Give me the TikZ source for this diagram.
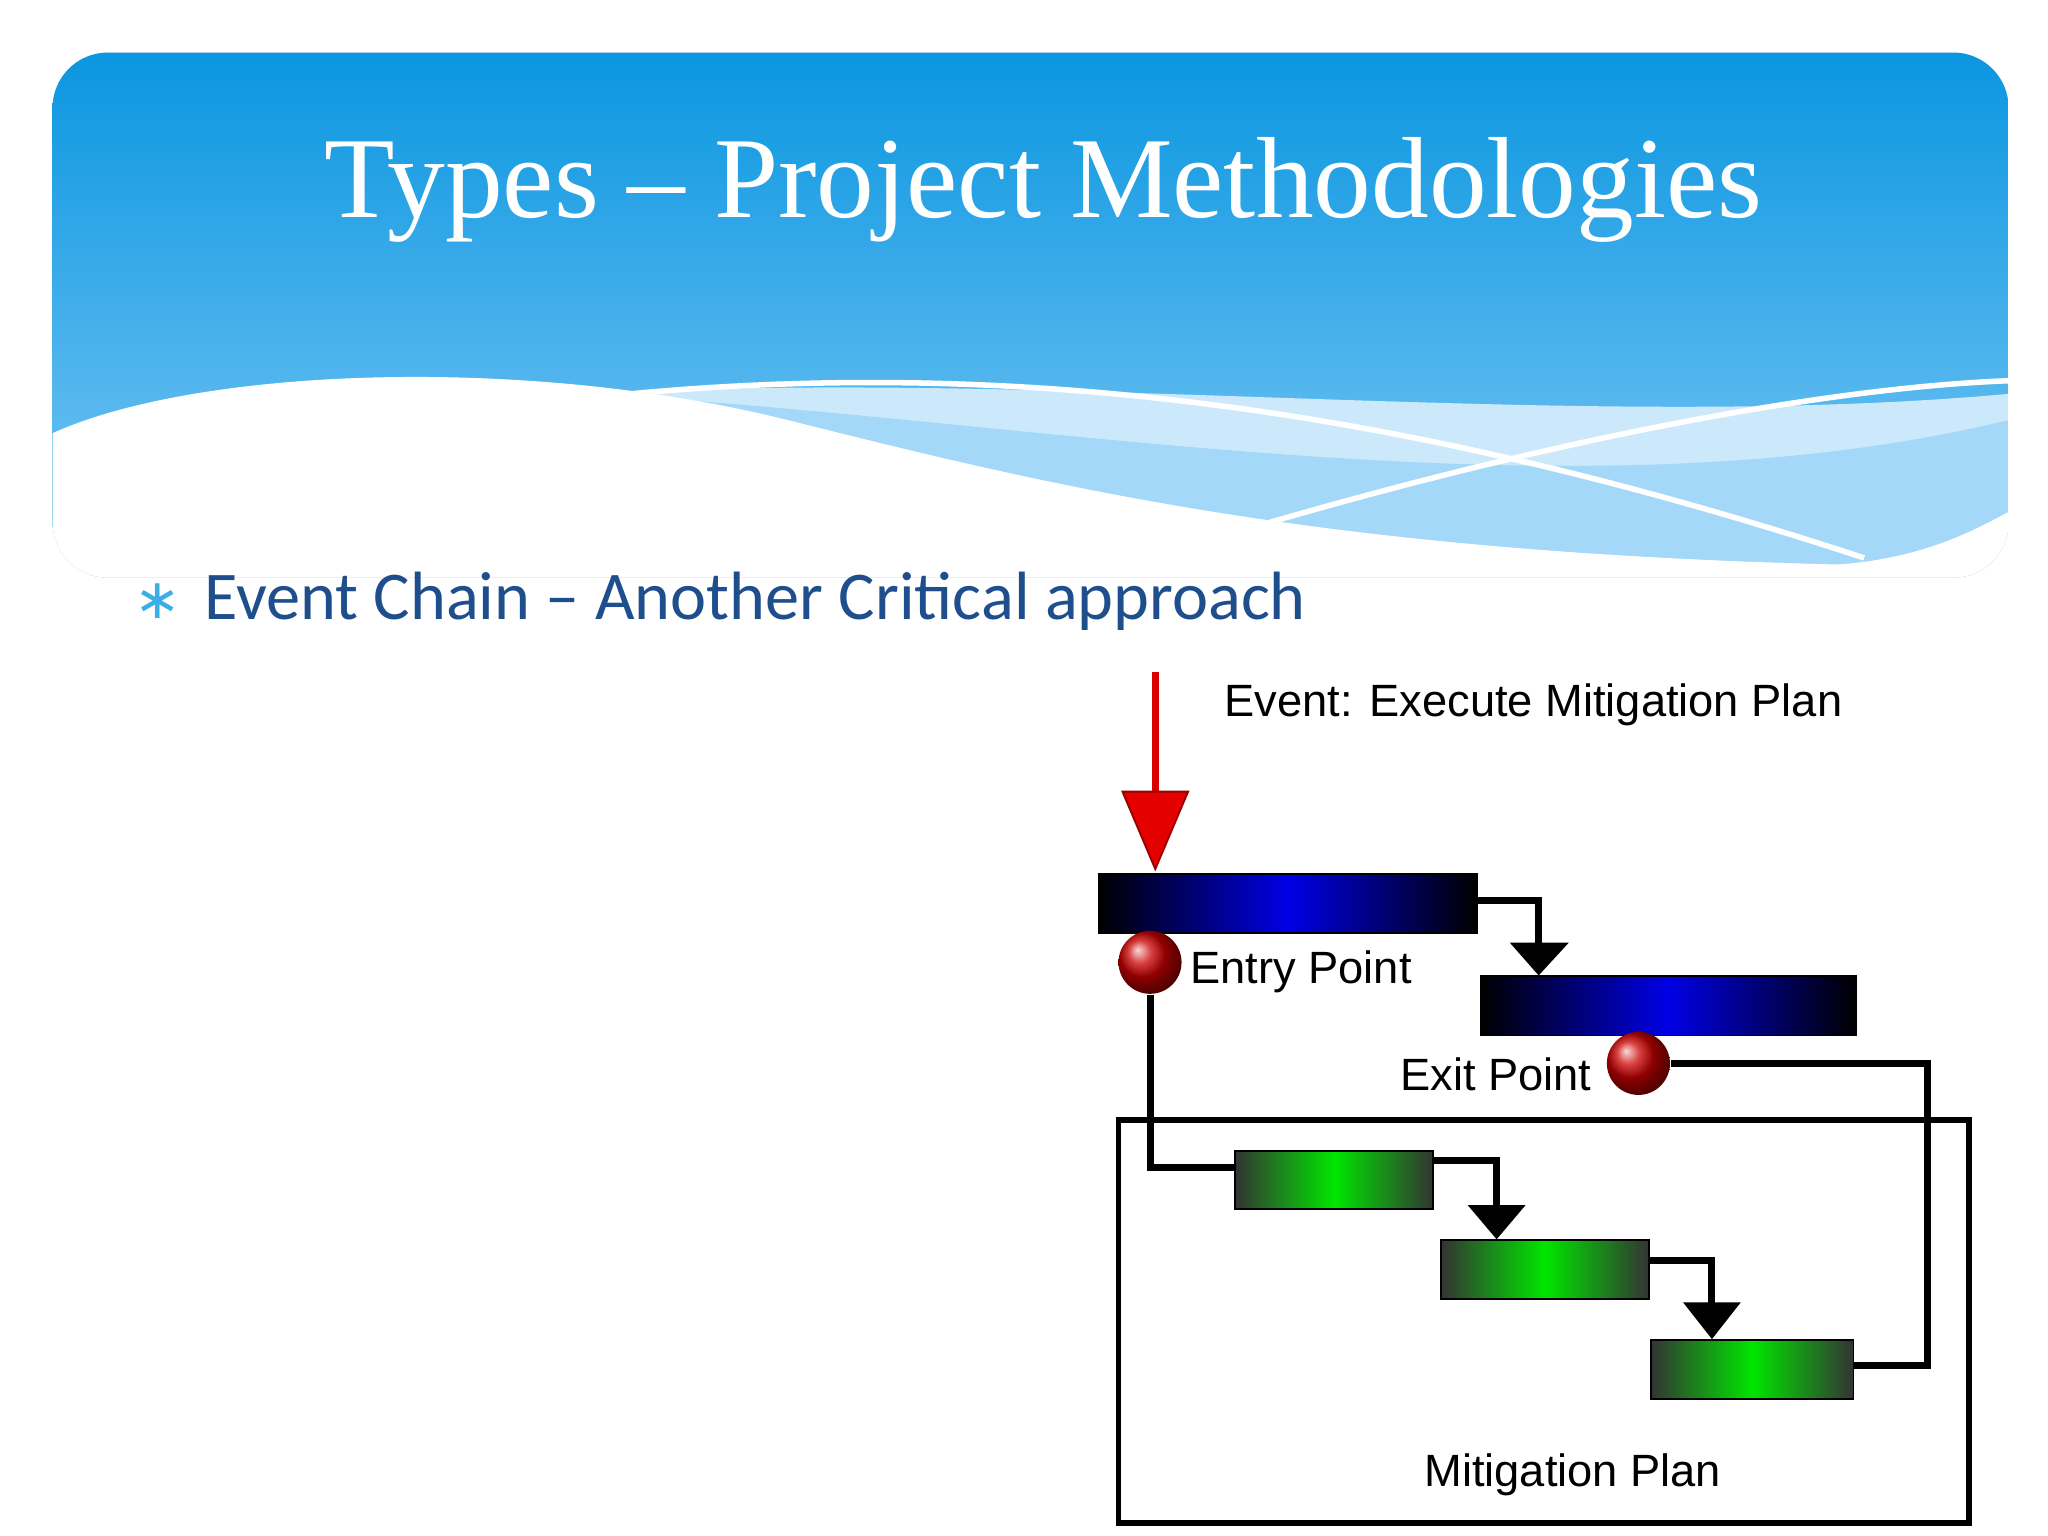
\documentclass[tikz,border=0pt]{standalone}
\usepackage{fontspec}
\setmainfont{Liberation Serif}
\newfontfamily\calfont{Carlito}
\newfontfamily\ari{Liberation Sans}
\newfontfamily\djv{DejaVu Sans}
\usetikzlibrary{calc}
\definecolor{hdtop}{HTML}{0A96E0}
\definecolor{hdbot}{HTML}{7CC8F5}
\definecolor{txtblue}{HTML}{1F4E8C}
\definecolor{bul}{HTML}{3BAEE8}
\tikzset{
 bluebar/.style={draw=black,thin,inner sep=0pt,left color=black,right color=black,middle color=blue!90!black},
 greenbar/.style={draw=black,thin,inner sep=0pt,left color=black!80,right color=black!80,middle color=green!90!black},
 redball/.style={circle,ball color=red!80!black,minimum size=0.48cm,inner sep=0pt},
 conn/.style={black,line width=1.5pt},
 lbl/.style={font=\ari\fontsize{9.8}{12}\selectfont,inner sep=0pt}
}
\begin{document}
\begin{tikzpicture}[x=0.01cm,y=-0.01cm]
\useasboundingbox[fill=white] (0,0) rectangle (1560,1170);
% header
\begin{scope}
\clip[rounded corners=12] (40,40) rectangle (1530,440);
\shade[top color=hdtop,bottom color=hdbot] (40,40) rectangle (1530,440);
\fill[white!60!hdbot] (450,300) .. controls (800,280) and (1200,330) .. (1530,300) -- (1530,440) -- (40,440) -- cycle;
\fill[white!30!hdbot] (450,300) .. controls (800,320) and (1200,400) .. (1530,320) -- (1530,440) -- (40,440) -- cycle;
\fill[white] (40,330) .. controls (150,280) and (400,270) .. (600,320) .. controls (800,370) and (1000,420) .. (1400,430) .. controls (1470,425) and (1510,400) .. (1530,390) -- (1530,440) -- (40,440) -- cycle;
\draw[white,line width=1.2pt] (480,300) .. controls (800,270) and (1100,320) .. (1420,425);
\draw[white,line width=1.2pt] (960,400) .. controls (1200,330) and (1400,295) .. (1530,290);
\end{scope}
\node (title) at (795,145) {\fontsize{25}{30}\selectfont\color{white}Types – Project Methodologies};
\node (bullet) at (120,458) {\djv\fontsize{12}{14}\selectfont\color{bul}∗};
\node[anchor=west,inner sep=0pt] (sub) at (155,458) {\calfont\fontsize{14.8}{18}\selectfont\color{txtblue}Event Chain – Another Critical approach};
% diagram
\node[lbl,anchor=west] (ev) at (932,537) {Event: Execute Mitigation Plan};
\draw[red!85!black,line width=1.5pt] (880,512) -- (880,605);
\fill[red!90!black,draw=red!60!black] (855,603) -- (905,603) -- (880,662) -- cycle;
\node[bluebar,minimum width=2.88cm,minimum height=0.45cm,anchor=north west] (b1) at (836,665) {};
\node[bluebar,minimum width=2.86cm,minimum height=0.45cm,anchor=north west] (b2) at (1127,743) {};
\node[redball] (entry) at (876,733) {};
\node[redball] (exit) at (1248,810) {};
\node[lbl,anchor=west] (entryl) at (906,740) {Entry Point};
\node[lbl,anchor=east] (exitl) at (1213,818) {Exit Point};
\draw[black,line width=1.2pt] (852,853) rectangle (1500,1160);
\node[lbl] (mitl) at (1198,1123) {Mitigation Plan};
\node[greenbar,minimum width=1.51cm,minimum height=0.44cm,anchor=north west] (g1) at (940,876) {};
\node[greenbar,minimum width=1.58cm,minimum height=0.45cm,anchor=north west] (g2) at (1097,944) {};
\node[greenbar,minimum width=1.54cm,minimum height=0.45cm,anchor=north west] (g3) at (1257,1020) {};
% connectors
\coordinate (c1) at (1172,686);
\draw[conn] (b1.east |- c1) -- (c1) -- (1172,720);
\fill (1150,718) -- (1195,718) -- (b2.north -| c1) -- cycle;
\draw[conn] (entry.south) -- (876,889) -- (g1.west |- 0,889);
\draw[conn] (exit.east) -- (1468,810) -- (1468,1040) -- (g3.east |- 0,1040);
\coordinate (c2) at (1140,884);
\draw[conn] (g1.east |- c2) -- (c2) -- (1140,920);
\fill (1118,918) -- (1162,918) -- (g2.north -| c2) -- cycle;
\coordinate (c3) at (1304,960);
\draw[conn] (g2.east |- c3) -- (c3) -- (1304,994);
\fill (1282,992) -- (1326,992) -- (g3.north -| c3) -- cycle;
\end{tikzpicture}
\end{document}
